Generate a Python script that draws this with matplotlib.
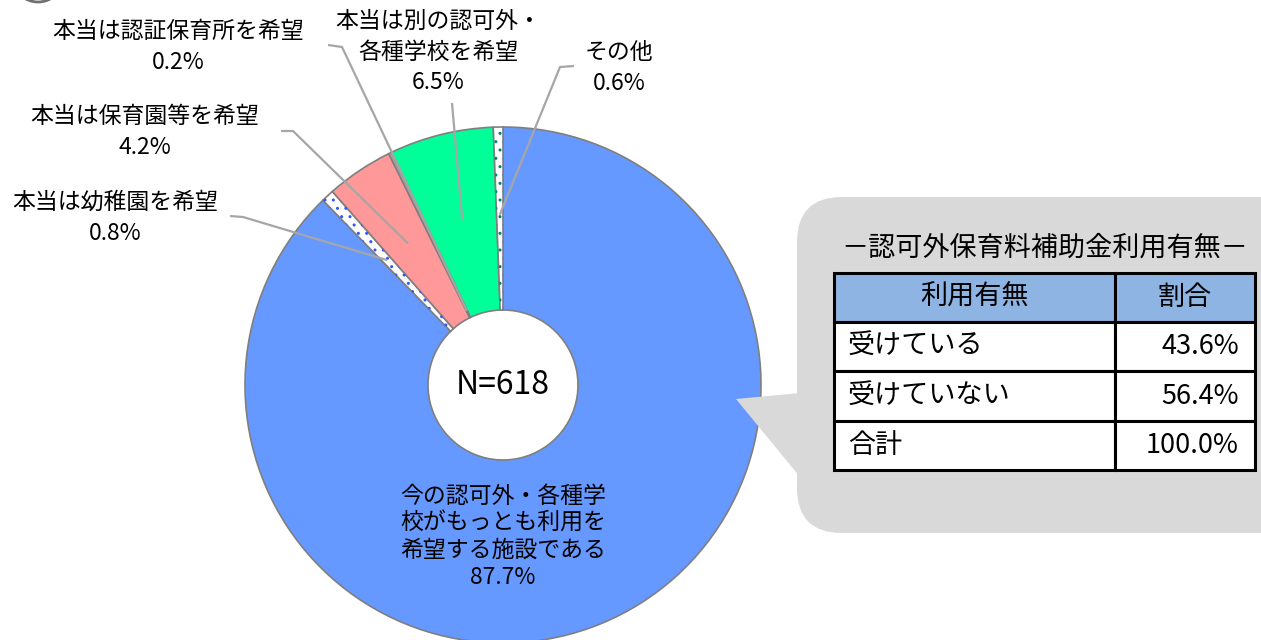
import numpy as np
import matplotlib.pyplot as plt
from matplotlib.patches import Wedge, Rectangle, FancyBboxPatch, Polygon, Arc

plt.rcParams['font.family'] = ['Noto Sans CJK JP', 'DejaVu Sans']

# pie data (clockwise from the top)
names = ['今の認可外・各種学\n校がもっとも利用を\n希望する施設である',
         '本当は幼稚園を希望', '本当は保育園等を希望', '本当は認証保育所を希望',
         '本当は別の認可外・\n各種学校を希望', 'その他']
shares = [87.7, 0.8, 4.2, 0.2, 6.5, 0.6]
colors = ['#6699ff', 'white', '#ff9999', '#a6a6a6', '#00ff99', 'white']
dots = [None, '#3355ff', None, None, None, '#008080']
n_total = 618

# table data
tbl_title = '－認可外保育料補助金利用有無－'
tbl_head = ['利用有無', '割合']
tbl_rows = ['受けている', '受けていない', '合計']
tbl_vals = [43.6, 56.4, 100.0]

W, H = 1261, 640
def Y(py):
    return H - py

fig = plt.figure(figsize=(W / 100, H / 100), dpi=100)
ax = fig.add_axes([0, 0, 1, 1])

cx, cy, R, r_in = 503, Y(385), 258, 75
wedges, _ = ax.pie(shares, colors=colors, startangle=90, counterclock=False,
                   radius=R, center=(cx, cy), frame=True,
                   wedgeprops=dict(width=R - r_in, edgecolor='#7f7f7f', linewidth=1.2))

# dotted fills
for w, c in zip(wedges, dots):
    if c:
        ax.add_patch(Wedge((cx, cy), R, w.theta1, w.theta2, width=R - r_in,
                           facecolor='none', edgecolor=c, linewidth=0, hatch='..'))

def point(i, frac):
    w = wedges[i]
    a = np.deg2rad((w.theta1 + w.theta2) / 2)
    rr = R * frac
    return cx + rr * np.cos(a), cy + rr * np.sin(a)

ax.text(cx, cy, f'N={n_total}', ha='center', va='center', fontsize=23)
ax.text(cx, Y(537), f'{names[0]}\n{shares[0]:.1f}%', ha='center', va='center',
        fontsize=16.5, linespacing=1.22)

# outside labels: text centre, line start, elbow, radial fraction of target
lab_pos = {1: ((115, 218), (230, 216), (243, 217), 0.66),
           2: ((145, 132), (281, 131), (293, 131), 0.66),
           3: ((178, 47), (328, 45), (342, 47), 0.32),
           4: ((438, 52), (452, 103), None, 0.66),
           5: ((619, 68), (574, 66), (560, 67), 0.66)}
for i, (tp, p0, p1, fr) in lab_pos.items():
    ax.text(tp[0], Y(tp[1]), f'{names[i]}\n{shares[i]:.1f}%', ha='center', va='center',
            fontsize=16.5, linespacing=1.42)
    tx, ty = point(i, fr)
    xs = [p0[0]] + ([p1[0]] if p1 else []) + [tx]
    ys = [Y(p0[1])] + ([Y(p1[1])] if p1 else []) + [ty]
    ax.plot(xs, ys, color='#a6a6a6', lw=1.6, solid_capstyle='butt')

# callout box
ax.add_patch(FancyBboxPatch((797, Y(533)), 520, 336,
                            boxstyle='round,pad=0,rounding_size=45',
                            facecolor='#d9d9d9', edgecolor='none'))
ax.add_patch(Polygon([(736, Y(399)), (800, Y(393)), (800, Y(477))],
                     closed=True, facecolor='#d9d9d9', edgecolor='none'))

# table
x0, xm, x1 = 834, 1115, 1255
top, rh = 273, 49.2
ax.text((x0 + x1) / 2, Y(248), tbl_title, ha='center', va='center', fontsize=19.5)
for k in range(len(tbl_rows) + 1):
    yb = Y(top + (k + 1) * rh)
    fc = '#8db4e2' if k == 0 else 'white'
    ax.add_patch(Rectangle((x0, yb), xm - x0, rh, facecolor=fc, edgecolor='black', lw=2.2))
    ax.add_patch(Rectangle((xm, yb), x1 - xm, rh, facecolor=fc, edgecolor='black', lw=2.2))
    ym = yb + rh / 2
    if k == 0:
        ax.text((x0 + xm) / 2, ym, tbl_head[0], ha='center', va='center', fontsize=19.5)
        ax.text((xm + x1) / 2, ym, tbl_head[1], ha='center', va='center', fontsize=19.5)
    else:
        ax.text(848, ym, tbl_rows[k - 1], ha='left', va='center', fontsize=19.5)
        ax.text(1239, ym, f'{tbl_vals[k - 1]:.1f}%', ha='right', va='center', fontsize=19.5)

# small arc at top-left corner
ax.add_patch(Arc((38, Y(-24)), 52, 52, theta1=230, theta2=310, color='#707070', lw=2))

ax.set_xlim(0, W)
ax.set_ylim(0, H)
ax.axis('off')
fig.savefig('out.png', dpi=100)
